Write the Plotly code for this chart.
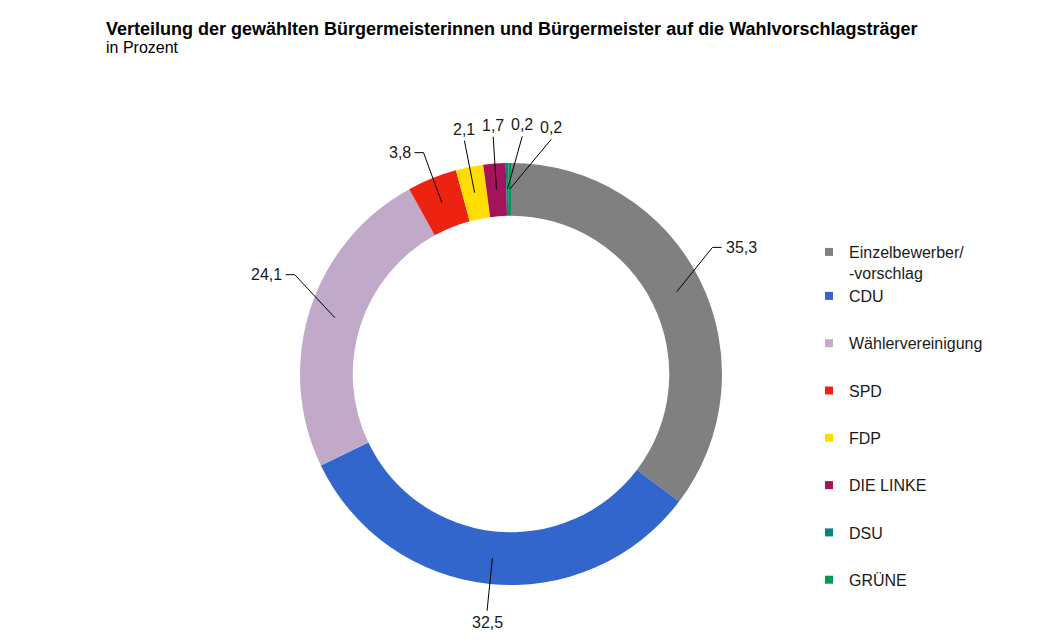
import math
import plotly.graph_objects as go

labels = ["Einzelbewerber/<br>-vorschlag", "CDU", "Wählervereinigung", "SPD",
          "FDP", "DIE LINKE", "DSU", "GRÜNE"]
values = [35.3, 32.5, 24.1, 3.8, 2.1, 1.7, 0.2, 0.2]
value_text = ["35,3", "32,5", "24,1", "3,8", "2,1", "1,7", "0,2", "0,2"]
colors = ["#808080", "#3366CC", "#C0A9C9", "#EE2211", "#FFDD00",
          "#A3145A", "#00857F", "#009A4E"]

W, H = 1048, 642
OFF = 8  # page body margin of the written html
cx, cy, R = 511, 374, 211  # pie centre / radius in page pixels
FONT = "Liberation Sans, Arial, sans-serif"


def px(x, y):
    # page pixel -> paper coordinates
    return (x - OFF) / W, 1 - (y - OFF) / H


fig = go.Figure()
x0d, y1d = px(cx - R, cy - R)
x1d, y0d = px(cx + R, cy + R)
fig.add_trace(go.Pie(
    labels=labels, values=values, sort=False, direction="clockwise",
    rotation=0, hole=0.75, textinfo="none", showlegend=False,
    marker=dict(colors=colors, line=dict(width=0)),
    domain=dict(x=[x0d, x1d], y=[y0d, y1d]),
))

# legend via dummy traces; first entry (two lines) in its own legend
for i, (lab, col) in enumerate(zip(labels, colors)):
    fig.add_trace(go.Scatter(
        x=[None], y=[None], mode="markers", name=lab, legendgroup=lab,
        legend="legend" if i == 0 else "legend2",
        marker=dict(symbol="square", size=8, color=col),
    ))

# data labels with leader lines
total = sum(values)
cum = 0
mids = []
for v in values:
    mids.append(360 * (cum + v / 2) / total)
    cum += v
lab_ang = []
for i, m in enumerate(mids):
    a = m - 8 * math.sin(math.radians(m)) ** 3
    if i > 0 and a > 300 and a - lab_ang[-1] < 7:
        a = lab_ang[-1] + 7
    lab_ang.append(a)

shapes = []
annotations = []
r_anchor, r_elbow = 185, 238
for m, a, t in zip(mids, lab_ang, value_text):
    ax = cx + r_anchor * math.sin(math.radians(m))
    ay = cy - r_anchor * math.cos(math.radians(m))
    ex = cx + r_elbow * math.sin(math.radians(a))
    ey = cy - r_elbow * math.cos(math.radians(a))
    s = math.sin(math.radians(a))
    x0, y0 = px(ax, ay)
    x1, y1 = px(ex, ey)
    shapes.append(dict(type="line", xref="paper", yref="paper",
                       x0=x0, y0=y0, x1=x1, y1=y1,
                       line=dict(color="black", width=1)))
    if abs(s) < 0.2:
        top = math.cos(math.radians(a)) > 0
        annotations.append(dict(
            x=x1, y=y1 + (1 / H if top else -1 / H), xref="paper", yref="paper",
            text=t, showarrow=False, xanchor="center",
            yanchor="bottom" if top else "top",
            font=dict(size=16, color="#1a1a1a", family=FONT)))
    else:
        side = 1 if s > 0 else -1
        hx = ex + side * 9
        x2, _ = px(hx, ey)
        shapes.append(dict(type="line", xref="paper", yref="paper",
                           x0=x1, y0=y1, x1=x2, y1=y1,
                           line=dict(color="black", width=1)))
        x3, _ = px(hx + side * 2, ey)
        annotations.append(dict(
            x=x3, y=y1, xref="paper", yref="paper", text=t, showarrow=False,
            xanchor="left" if side > 0 else "right", yanchor="middle",
            font=dict(size=16, color="#1a1a1a", family=FONT)))

tx, ty = px(104, 17)
annotations.append(dict(
    x=tx, y=ty, xref="paper", yref="paper", showarrow=False,
    xanchor="left", yanchor="top",
    text="<b>Verteilung der gewählten Bürgermeisterinnen und Bürgermeister auf die Wahlvorschlagsträger</b>",
    font=dict(size=18, color="black", family=FONT)))
sx, sy = px(104, 37)
annotations.append(dict(
    x=sx, y=sy, xref="paper", yref="paper", showarrow=False,
    xanchor="left", yanchor="top", text="in Prozent",
    font=dict(size=16, color="black", family=FONT)))

lx, ly1 = px(809, 235)
_, ly2 = px(809, 279)
leg_font = dict(size=16, color="#1a1a1a", family=FONT)
fig.update_layout(
    width=W, height=H,
    margin=dict(l=0, r=0, t=0, b=0),
    paper_bgcolor="white", plot_bgcolor="white",
    xaxis=dict(visible=False), yaxis=dict(visible=False),
    shapes=shapes, annotations=annotations,
    showlegend=True,
    legend=dict(x=lx, y=ly1, xanchor="left", yanchor="top", valign="top",
                bgcolor="rgba(0,0,0,0)", font=leg_font),
    legend2=dict(x=lx, y=ly2, xanchor="left", yanchor="top", valign="top",
                 bgcolor="rgba(0,0,0,0)", tracegroupgap=23.5, font=leg_font),
    font=dict(family=FONT),
)

fig.write_html("out.html")
